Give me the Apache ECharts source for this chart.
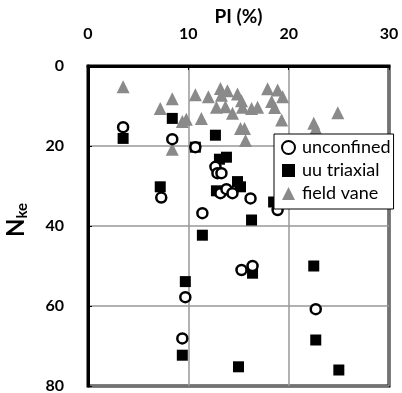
<!DOCTYPE html>
<html><head><meta charset="utf-8">
<script src="https://cdn.jsdelivr.net/npm/echarts@6/dist/echarts.min.js"></script>
<style>html,body{margin:0;padding:0;background:#fff}#c{width:402px;height:393px}</style>
</head><body><div id="c"></div>
<script>
var xTicks = [0, 10, 20, 30];
var yTicks = [0, 20, 40, 60, 80];
var unconfined = [[3.5,15.3],[8.4,18.3],[7.3,32.9],[10.7,20.3],[12.7,25.2],[12.9,26.8],[13.3,26.8],[13.2,31.8],[13.8,30.8],[14.4,31.8],[16.2,33.1],[11.4,36.8],[18.9,36],[15.3,51],[16.4,50],[9.7,57.8],[9.4,68.1],[22.7,60.8]];
var uuTriaxial = [[3.5,18.1],[8.4,13.1],[7.2,30.2],[10.7,20.3],[12.7,17.3],[13.1,23.3],[13.8,22.8],[12.8,31.2],[14.9,28.9],[15.2,30.2],[16.3,38.5],[18.5,34],[11.4,42.3],[9.7,53.9],[9.4,72.3],[15.0,75.2],[16.4,51.8],[22.5,50],[22.7,68.5],[25.0,76]];
var fieldVane = [[3.5,5.2],[8.4,8.2],[7.2,10.6],[9.4,13.9],[9.8,13.3],[8.4,20.8],[10.7,7.2],[12.0,7.7],[11.3,13.1],[13.2,5.6],[13.9,6.2],[13.3,7.3],[12.8,10.3],[13.7,10.2],[14.4,11.8],[14.9,7.0],[15.3,8.7],[15.4,10.3],[16.3,10.6],[16.9,10.3],[17.9,5.7],[18.9,6.0],[19.4,7.7],[18.3,8.9],[18.6,10.4],[19.3,13.5],[15.2,15.6],[15.6,15.6],[15.7,18.6],[22.5,14.3],[22.7,15.6],[24.9,11.7]];

var FONT = 'Lato';
var chart = echarts.init(document.getElementById('c'), null, {renderer:'canvas'});
chart.setOption({
  animation: false,
  backgroundColor: '#fff',
  grid: {left: 88, right: 13, top: 66, bottom: 7, show: true, borderColor: '#000', borderWidth: 3,
         backgroundColor: 'transparent', outerBoundsMode: 'none', containLabel: false},
  legend: {
    data: ['unconfined', 'uu triaxial', 'field vane'],
    orient: 'vertical', left: 274, top: 134,
    backgroundColor: '#fff', borderColor: '#000', borderWidth: 1,
    padding: [4, 3, 6, 7], itemGap: 4, itemWidth: 13, itemHeight: 13,
    textStyle: {fontFamily: FONT, fontSize: 18, lineHeight: 19, color: '#000', padding: [0,0,0,2]}
  },
  xAxis: {
    type: 'value', position: 'top', min: xTicks[0], max: xTicks[xTicks.length-1], interval: 10,
    name: 'PI (%)', nameLocation: 'middle', nameGap: 40, nameMoveOverlap: false,
    nameTextStyle: {fontFamily: FONT, fontSize: 19, fontWeight: 'bold', color: '#000'},
    axisLine: {show: true, lineStyle: {color: '#000', width: 3}},
    axisTick: {show: true, inside: true, length: 4, lineStyle: {color: '#000', width: 1}},
    axisLabel: {fontFamily: FONT, fontSize: 16, fontWeight: 'bold', color: '#000', margin: 24},
    splitLine: {show: true, lineStyle: {color: '#999', width: 1.5}}
  },
  yAxis: {
    type: 'value', inverse: true, min: yTicks[0], max: yTicks[yTicks.length-1], interval: 20,
    name: '{n|N}{s|ke}', nameLocation: 'middle', nameGap: 58, nameRotate: 90, nameMoveOverlap: false,
    nameTextStyle: {
      padding: [0, 0, 0, 12],
      rich: {
        n: {fontFamily: FONT, fontSize: 24, fontWeight: 'bold', color: '#000'},
        s: {fontFamily: FONT, fontSize: 15, fontWeight: 'bold', color: '#000', padding: [12,0,0,0]}
      }
    },
    axisLine: {show: true, lineStyle: {color: '#000', width: 3}},
    axisTick: {show: true, inside: true, length: 4, lineStyle: {color: '#000', width: 1}},
    axisLabel: {fontFamily: FONT, fontSize: 16, fontWeight: 'bold', color: '#000', margin: 24},
    splitLine: {show: true, lineStyle: {color: '#999', width: 1.5}}
  },
  series: [
    {name: 'field vane', type: 'scatter', data: fieldVane, symbol: 'triangle', symbolSize: 13,
     itemStyle: {color: '#8a8a8a', opacity: 1}},
    {name: 'uu triaxial', type: 'scatter', data: uuTriaxial, symbol: 'rect', symbolSize: 11,
     itemStyle: {color: '#000', opacity: 1}},
    {name: 'unconfined', type: 'scatter', data: unconfined, symbol: 'circle', symbolSize: 10,
     itemStyle: {color: '#fff', borderColor: '#000', borderWidth: 2.5, opacity: 1}}
  ]
});
</script></body></html>
